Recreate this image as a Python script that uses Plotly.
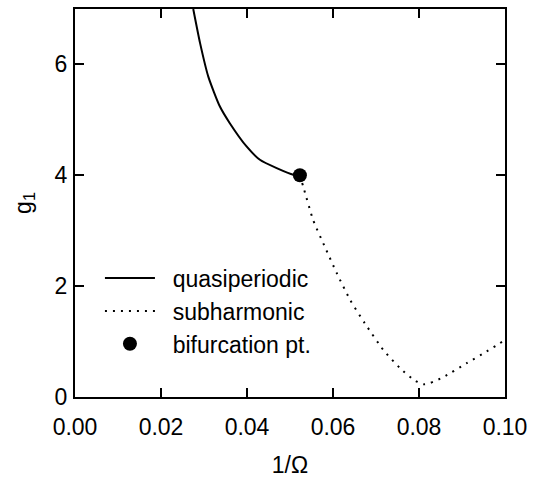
import plotly.graph_objects as go

# quasiperiodic boundary (solid)
quasi_x = [0.0275, 0.0291, 0.0310, 0.0337, 0.0360, 0.0399, 0.0430, 0.0469, 0.0508, 0.0523]
quasi_y = [7.00, 6.38, 5.78, 5.24, 4.94, 4.52, 4.28, 4.13, 4.01, 4.00]

# subharmonic boundary (dotted)
sub_x = [0.0523, 0.0531, 0.0554, 0.0581, 0.0609, 0.0640, 0.0674, 0.0717, 0.0756, 0.0790, 0.0810, 0.0825, 0.0857, 0.0911, 0.0957, 0.0988, 0.1000]
sub_y = [4.00, 3.79, 3.19, 2.71, 2.23, 1.75, 1.33, 0.85, 0.52, 0.30, 0.23, 0.25, 0.36, 0.61, 0.82, 0.97, 1.03]

# bifurcation point
bif_x = [0.0523]
bif_y = [4.0]

xticks = [0.0, 0.02, 0.04, 0.06, 0.08, 0.10]
xticklabels = ["0.00", "0.02", "0.04", "0.06", "0.08", "0.10"]
yticks = [0, 2, 4, 6]

FONT = "Arial, Liberation Sans, Helvetica, sans-serif"
FS = 23

fig = go.Figure()
fig.add_trace(go.Scatter(x=quasi_x, y=quasi_y, mode="lines", name="\u00a0\u00a0quasiperiodic",
                         line=dict(color="black", width=2, shape="spline", smoothing=0.6)))
fig.add_trace(go.Scatter(x=sub_x, y=sub_y, mode="lines", name="\u00a0\u00a0subharmonic",
                         line=dict(color="black", width=2, dash="2px,6px", shape="spline", smoothing=0.6)))
fig.add_trace(go.Scatter(x=bif_x, y=bif_y, mode="markers", name="\u00a0\u00a0bifurcation pt.",
                         marker=dict(color="black", size=14)))

axis_common = dict(showline=True, linecolor="black", linewidth=2, mirror="ticks",
                   ticks="inside", ticklen=9, tickwidth=2, tickcolor="black",
                   showgrid=False, zeroline=False, automargin=False,
                   tickfont=dict(family=FONT, size=FS, color="black"))

fig.update_layout(
    width=533, height=478,
    margin=dict(l=75, r=28, t=9, b=81),
    paper_bgcolor="white", plot_bgcolor="white",
    font=dict(family=FONT, size=FS, color="black"),
    showlegend=True,
    legend=dict(x=0.058, y=0.362, xanchor="left", yanchor="top",
                bgcolor="rgba(0,0,0,0)", font=dict(family=FONT, size=FS, color="black"),
                itemwidth=50, tracegroupgap=0),
    xaxis=dict(range=[0, 0.1], tickvals=xticks, ticktext=xticklabels,
               title=dict(text="1/Ω", font=dict(family=FONT, size=FS), standoff=19),
               ticklabelstandoff=8, **axis_common),
    yaxis=dict(range=[0, 7], tickvals=yticks,
               title=dict(text="g<sub>1</sub>", font=dict(family=FONT, size=FS), standoff=17),
               ticklabelstandoff=1, **axis_common),
)

fig.write_html("out.html", config={"displayModeBar": False},
               post_script="document.body.style.margin='0';")
